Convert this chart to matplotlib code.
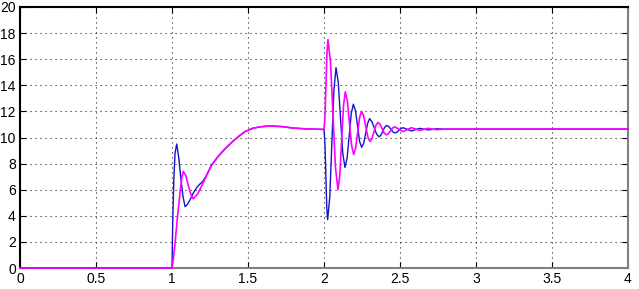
import matplotlib.pyplot as plt
from matplotlib import font_manager

# blue trace (time s, value)
t_blue = [0.0, 1.0, 1.005, 1.012, 1.02, 1.031, 1.045, 1.057, 1.072, 1.086, 1.10, 1.12,
          1.14, 1.165, 1.185, 1.20, 1.22, 1.26, 1.30, 1.35, 1.40, 1.44, 1.48, 1.53,
          1.58, 1.64, 1.72, 1.80, 1.90, 1.995,
          2.0, 2.006, 2.012, 2.018, 2.024, 2.0378, 2.0515, 2.0653, 2.079,
          2.0938, 2.1085, 2.1233, 2.138, 2.1518, 2.1655, 2.1793, 2.193,
          2.2068, 2.2205, 2.2343, 2.248, 2.261, 2.274, 2.287, 2.300,
          2.3155, 2.331, 2.3465, 2.362, 2.3745, 2.387, 2.3995, 2.412,
          2.4258, 2.4395, 2.4533, 2.467, 2.4803, 2.4935, 2.5068, 2.52,
          2.547, 2.575, 2.6025, 2.63, 2.6575, 2.685, 2.7125, 2.74, 2.80, 4.0]
y_blue = [0.0, 0.0, 3.7, 6.8, 8.8, 9.5, 8.4, 7.0, 5.5, 4.7, 4.85, 5.25,
          5.75, 6.2, 6.45, 6.6, 6.95, 7.9, 8.5, 9.15, 9.7, 10.1, 10.45, 10.7,
          10.82, 10.88, 10.84, 10.72, 10.65, 10.62,
          10.6, 9.6, 7.2, 4.7, 3.7, 5.4, 9.5, 13.65, 15.35,
          14.23, 11.5, 8.82, 7.7, 8.41, 10.1, 11.84, 12.55,
          12.06, 10.9, 9.69, 9.25, 9.55, 10.3, 11.08, 11.45,
          11.2, 10.72, 10.25, 10.05, 10.18, 10.49, 10.79, 10.92,
          10.84, 10.64, 10.43, 10.35, 10.41, 10.55, 10.69, 10.75,
          10.63, 10.5, 10.6, 10.7, 10.64, 10.58, 10.62, 10.67, 10.64, 10.64]

# magenta trace (time s, value)
t_mag = [0.0, 1.0, 1.01, 1.02, 1.035, 1.053, 1.064, 1.074, 1.09, 1.11, 1.125, 1.14,
         1.17, 1.20, 1.23, 1.26, 1.30, 1.35, 1.40, 1.44, 1.48, 1.53,
         1.58, 1.64, 1.72, 1.80, 1.90, 1.995,
         2.0, 2.0065, 2.013, 2.0195, 2.026, 2.0425, 2.059, 2.0755, 2.092,
         2.104, 2.116, 2.128, 2.140, 2.1538, 2.1675, 2.1813, 2.195,
         2.208, 2.221, 2.234, 2.247, 2.2608, 2.2745, 2.2883, 2.302,
         2.3153, 2.3285, 2.3418, 2.355, 2.3688, 2.3825, 2.3963, 2.41,
         2.4238, 2.4375, 2.4513, 2.465, 2.4925, 2.52, 2.5475, 2.575,
         2.6025, 2.63, 2.6575, 2.685, 2.7125, 2.74, 2.80, 4.0]
y_mag = [0.0, 0.0, 0.8, 1.9, 3.8, 5.8, 6.9, 7.4, 7.1, 6.2, 5.6, 5.3,
         5.7, 6.4, 7.15, 7.85, 8.5, 9.15, 9.7, 10.1, 10.45, 10.7,
         10.82, 10.88, 10.84, 10.72, 10.65, 10.62,
         10.6, 11.6, 14.05, 16.5, 17.5, 15.82, 11.75, 7.68, 6.0,
         7.1, 9.75, 12.4, 13.5, 12.8, 11.1, 9.4, 8.7,
         9.18, 10.35, 11.52, 12.0, 11.66, 10.85, 10.04, 9.7,
         9.91, 10.43, 10.94, 11.15, 11.01, 10.68, 10.34, 10.2,
         10.29, 10.51, 10.73, 10.82, 10.64, 10.45, 10.6, 10.75,
         10.65, 10.55, 10.62, 10.7, 10.65, 10.6, 10.65, 10.65]

x_ticks = [0, 0.5, 1, 1.5, 2, 2.5, 3, 3.5, 4]
x_labels = ['0', '0.5', '1', '1.5', '2', '2.5', '3', '3.5', '4']
y_ticks = [0, 2, 4, 6, 8, 10, 12, 14, 16, 18, 20]

names = {f.name for f in font_manager.fontManager.ttflist}
font = 'Liberation Sans Narrow' if 'Liberation Sans Narrow' in names else 'Liberation Sans'
plt.rcParams['font.family'] = [font, 'DejaVu Sans']

fig = plt.figure(figsize=(6.39, 2.89), dpi=100)
fig.patch.set_facecolor('white')
ax = fig.add_axes([20 / 639, 21 / 289, 608 / 639, 261 / 289])

ax.plot(t_blue, y_blue, color='#1414c8', linewidth=1.0, clip_on=False, zorder=3)
ax.plot(t_mag, y_mag, color='#ff00ff', linewidth=1.2, clip_on=False, zorder=4)

ax.set_xlim(0, 4)
ax.set_ylim(0, 20)
ax.set_xticks(x_ticks)
ax.set_xticklabels(x_labels)
ax.set_yticks(y_ticks)
ax.grid(True, color='#202020', linestyle=(0, (1, 3.5)), linewidth=0.8)
ax.tick_params(direction='in', length=4, width=0.8, labelsize=10,
               top=True, right=True, pad=3, colors='black')

ax.spines['left'].set_color('black')
ax.spines['top'].set_color('black')
ax.spines['right'].set_color('#808080')
ax.spines['bottom'].set_color('#808080')
for s in ax.spines.values():
    s.set_linewidth(1.5)
    s.set_zorder(2.5)

fig.savefig('out.png', dpi=100)
